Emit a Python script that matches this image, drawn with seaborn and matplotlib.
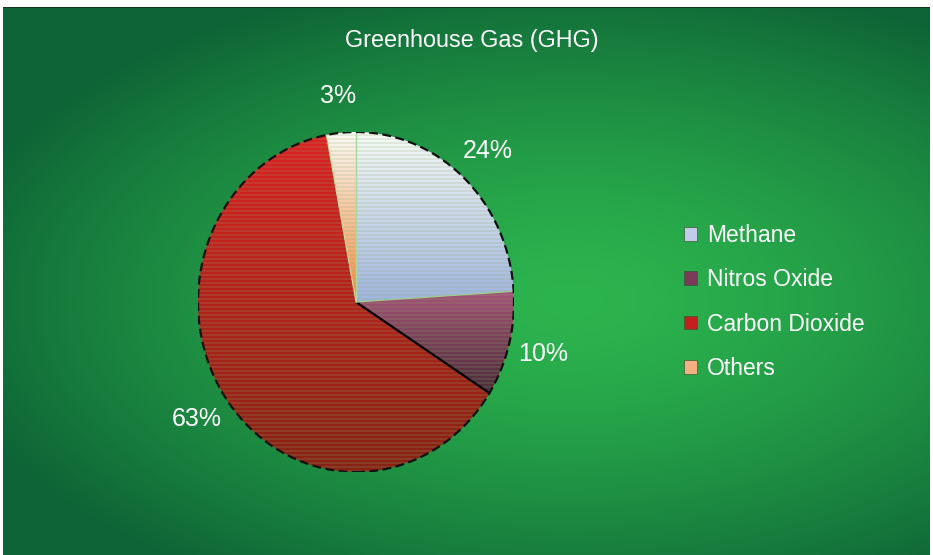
import numpy as np
import matplotlib
matplotlib.use("Agg")
import matplotlib.pyplot as plt
import seaborn as sns
from matplotlib.patches import Ellipse, Rectangle

sns.set_style("white")
plt.rcParams['font.family'] = ['Liberation Sans', 'DejaVu Sans']

# ---- data ----
title = "Greenhouse Gas (GHG)"
categories = ["Methane", "Nitros Oxide", "Carbon Dioxide", "Others"]
values = [24, 10, 63, 3]
# gradient colours (top, bottom) per slice
top_colors = ["#f6faf4", "#a45478", "#dc2222", "#fbfbf6"]
bottom_colors = ["#9fb4de", "#4a2c36", "#862414", "#ee8a3c"]
legend_colors = ["#c4cbe8", "#7a3a58", "#c42020", "#f2b080"]

W, H = 933, 555
fig = plt.figure(figsize=(W / 100, H / 100), dpi=100)
fig.patch.set_facecolor("white")

# ---- background gradient ----
bg_ax = fig.add_axes([0, 0, 1, 1])
bg_ax.set_axis_off()
yy, xx = np.mgrid[0:H, 0:W]
cx, cy, rx, ry = 570, 300, 640, 330
d = np.sqrt(((xx - cx) / rx) ** 2 + ((yy - cy) / ry) ** 2)
d = np.clip(d, 0, 1) ** 1.5
bright = np.array([44, 180, 78]) / 255
dark = np.array([14, 100, 54]) / 255
img = bright[None, None, :] * (1 - d[..., None]) + dark[None, None, :] * d[..., None]
white = np.ones_like(img)
mask = (yy < 7) | (xx < 3) | (xx > 929)
img[mask] = white[mask]
img[(yy == 7) & (xx >= 3) & (xx <= 929)] = np.array([20, 50, 30]) / 255
bg_ax.imshow(img, extent=[0, W, H, 0], aspect="auto", interpolation="bilinear")
bg_ax.set_xlim(0, W)
bg_ax.set_ylim(H, 0)

# ---- pie ----
pcx, pcy, prx, pry = 356, 302, 158, 170
ax = fig.add_axes([(pcx - prx) / W, (H - pcy - pry) / H, 2 * prx / W, 2 * pry / H])
wedges, texts, autotexts = ax.pie(
    values, startangle=90, counterclock=False, autopct="%1.0f%%",
    pctdistance=1.22, labeldistance=None,
    wedgeprops=dict(edgecolor="none", linewidth=0),
    textprops=dict(color="white", fontsize=18),
)
ax.set_aspect("auto")
ax.set_xlim(-1, 1)
ax.set_ylim(-1, 1)
ax.set_axis_off()


def hex2rgb(h):
    return np.array(matplotlib.colors.to_rgb(h))


nrows = 170
stripe_tint = np.array([0.55, 0.65, 0.45])
for w, ct, cb in zip(wedges, top_colors, bottom_colors):
    ext = w.get_path().get_extents()
    y0, y1 = ext.y0, ext.y1
    rows_y = np.linspace(1, -1, nrows)
    t = np.clip((y1 - rows_y) / max(y1 - y0, 1e-6), 0, 1)
    cols = hex2rgb(ct)[None, :] * (1 - t[:, None]) + hex2rgb(cb)[None, :] * t[:, None]
    stripe = (np.arange(nrows) % 2 == 1)
    cols[stripe] = cols[stripe] * 0.82 + stripe_tint * 0.18
    gimg = np.repeat(cols[:, None, :], 4, axis=1)
    im = ax.imshow(gimg, extent=[-1, 1, -1, 1], aspect="auto",
                   interpolation="nearest", zorder=1)
    im.set_clip_path(w)

# slice separators (clockwise wedges: theta2 is the start edge, theta1 the end edge)
ang_m_n = np.deg2rad(wedges[0].theta1)
ang_n_c = np.deg2rad(wedges[1].theta1)
ang_c_o = np.deg2rad(wedges[2].theta1)
ang_o_m = np.deg2rad(wedges[0].theta2)
ax.plot([0, np.cos(ang_n_c)], [0, np.sin(ang_n_c)], color="black", lw=1.6, zorder=3)
ax.plot([0, np.cos(ang_o_m)], [0, np.sin(ang_o_m)], color="#a8d8a0", lw=1.0, zorder=3)
ax.plot([0, np.cos(ang_m_n)], [0, np.sin(ang_m_n)], color="#9ccf8c", lw=0.9, zorder=3)
ax.plot([0, np.cos(ang_c_o)], [0, np.sin(ang_c_o)], color="#c8e0a0", lw=0.8, zorder=3)

outline = Ellipse((0, 0), 2, 2, facecolor="none", edgecolor="#111111",
                  lw=1.6, linestyle=(0, (4, 2)), zorder=4)
ax.add_patch(outline)
for t in autotexts:
    t.set_zorder(5)

# ---- title ----
fig.text(472 / W, 1 - 40 / H, title, color="white", fontsize=16.8,
         ha="center", va="center")

# ---- legend ----
handles = [Rectangle((0, 0), 1, 1, facecolor=c, edgecolor="#3a5a3a", lw=0.5)
           for c in legend_colors]
leg = fig.legend(handles, categories, loc="upper left",
                 bbox_to_anchor=(684 / W, 1 - 224 / H), frameon=False,
                 fontsize=16.5, labelcolor="white", handlelength=0.55,
                 handleheight=0.55, handletextpad=0.45, labelspacing=0.93,
                 borderaxespad=0, borderpad=0)

fig.savefig("out.png", dpi=100)
